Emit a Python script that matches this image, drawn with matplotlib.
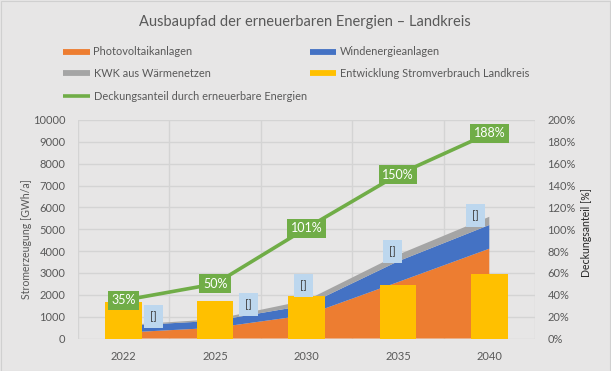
import matplotlib
matplotlib.use("Agg")
import matplotlib.pyplot as plt
from matplotlib.lines import Line2D
from matplotlib.patches import Rectangle
import numpy as np

# ---------------- data ----------------
years = ["2022", "2025", "2030", "2035", "2040"]
pv = [270, 490, 1070, 2580, 4110]          # Photovoltaikanlagen
wind = [310, 320, 450, 950, 1085]          # Windenergieanlagen
kwk = [35, 70, 230, 300, 375]              # KWK aus Wärmenetzen
verbrauch = [1650, 1700, 1950, 2470, 2970] # Entwicklung Stromverbrauch Landkreis
deckung = [35, 50, 101, 150, 188]          # Deckungsanteil [%]
deckung_labels = ["35%", "50%", "101%", "150%", "188%"]
empty_labels = ["[]", "[]", "[]", "[]", "[]"]

left_ticks = list(range(0, 10001, 1000))
right_ticks = list(range(0, 201, 20))

# ---------------- style ----------------
BG = "#E7E6E6"
GRID = "#D4D4D4"
TXT = "#595959"
C_PV = "#ED7D31"
C_WIND = "#4472C4"
C_KWK = "#A5A5A5"
C_VB = "#FFC000"
C_DK = "#70AD47"
FONT = ["Lato", "DejaVu Sans"]
plt.rcParams["font.family"] = FONT

W, H = 611, 371
fig = plt.figure(figsize=(W / 100, H / 100), dpi=100, facecolor=BG)
fig.add_artist(Rectangle((0.5 / W, 0.5 / H), 1 - 1.5 / W, 1 - 1.5 / H,
                         transform=fig.transFigure, fill=False,
                         edgecolor="#D0D0D0", linewidth=0.8))

ax = fig.add_axes([78 / W, (H - 338.5) / H, (535 - 78) / W, (338.5 - 120) / H])
ax.set_facecolor(BG)
x = np.arange(len(years))

ax.stackplot(x, pv, wind, kwk, colors=[C_PV, C_WIND, C_KWK], zorder=2, linewidth=0)
ax.bar(x, verbrauch, width=0.4, color=C_VB, zorder=3)

ax.set_xlim(-0.5, len(years) - 0.5)
ax.set_ylim(0, 10000)
ax.set_yticks(left_ticks)
ax.set_yticklabels([str(t) for t in left_ticks])
ax.set_xticks(x)
ax.set_xticklabels(years)
ax.set_xticks(np.arange(-0.5, len(years), 1.0), minor=True)
ax.grid(True, which="major", axis="y", color=GRID, linewidth=1.0, zorder=0)
ax.grid(True, which="minor", axis="x", color=GRID, linewidth=1.0, zorder=0)
ax.set_axisbelow(True)
for s in ax.spines.values():
    s.set_visible(False)
ax.tick_params(axis="both", which="both", length=0, colors=TXT, labelsize=8)
ax.tick_params(axis="y", pad=9)
ax.tick_params(axis="x", pad=9)
ax.set_ylabel("Stromerzeugung [GWh/a]", color=TXT, fontsize=7.6, va="center")
ax.yaxis.set_label_coords(-0.112, 0.455)

# empty data labels "[]"
totals = np.array(pv) + np.array(wind) + np.array(kwk)
lab_off = [(29.5, 8.5), (33, 14.5), (-3, 14.5), (-5.5, 3), (-14, 1)]  # pixels
for i, t in enumerate(empty_labels):
    dx, dy = lab_off[i]
    ax.annotate(t, (x[i], totals[i]), xytext=(dx * 0.72, dy * 0.72),
                textcoords="offset points", ha="center", va="center",
                fontsize=8, color="#404040", zorder=6,
                bbox=dict(boxstyle="square,pad=0.55", fc="#BDD7EE", ec="none"))

# secondary axis
ax2 = ax.twinx()
ax2.plot(x, deckung, color=C_DK, linewidth=2.6, zorder=4)
ax2.set_ylim(0, 200)
ax2.set_yticks(right_ticks)
ax2.set_yticklabels([f"{t}%" for t in right_ticks])
for s in ax2.spines.values():
    s.set_visible(False)
ax2.tick_params(axis="y", length=0, colors=TXT, labelsize=8, pad=9)
ax2.set_ylabel("Deckungsanteil [%]", color="#262626", fontsize=7.6, va="center")
ax2.yaxis.set_label_coords(1.1116, 0.483)
for i, t in enumerate(deckung_labels):
    ax2.annotate(t, (x[i], deckung[i]), ha="center", va="center",
                 fontsize=9, color="white", zorder=6,
                 bbox=dict(boxstyle="square,pad=0.28", fc=C_DK, ec="none"))

# title
fig.text(305 / W, 1 - 22 / H, "Ausbaupfad der erneuerbaren Energien – Landkreis",
         ha="center", va="center", fontsize=10.5, color=TXT)

# legend (manual)
leg = [
    (63.5, 51.7, C_PV, "Photovoltaikanlagen", 4.2),
    (63.5, 73.3, C_KWK, "KWK aus Wärmenetzen", 4.2),
    (63.5, 96.0, C_DK, "Deckungsanteil durch erneuerbare Energien", 2.6),
    (310, 51.7, C_WIND, "Windenergieanlagen", 4.2),
    (310, 73.3, C_VB, "Entwicklung Stromverbrauch Landkreis", 4.2),
]
for lx, ly, c, lab, lw in leg:
    fig.add_artist(Line2D([lx / W, (lx + 26) / W], [1 - ly / H, 1 - ly / H],
                          transform=fig.transFigure, color=c, linewidth=lw,
                          solid_capstyle="butt"))
    fig.text((lx + 30) / W, 1 - ly / H, lab, ha="left", va="center",
             fontsize=7.9, color=TXT)

fig.savefig("out.png", dpi=100, facecolor=BG)
